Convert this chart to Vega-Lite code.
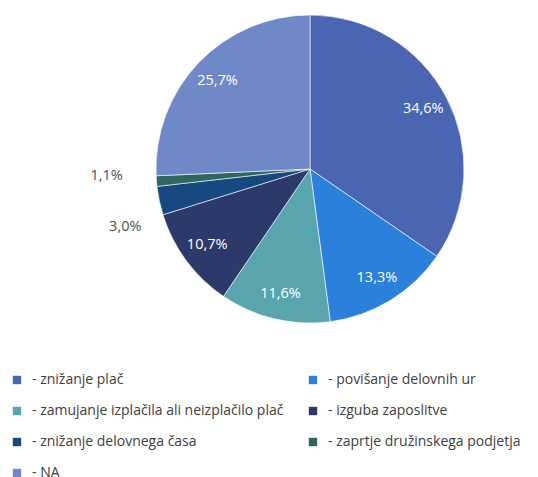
{
  "$schema": "https://vega.github.io/schema/vega-lite/v6.json",
  "width": 456,
  "height": 338,
  "autosize": {"type": "none"},
  "padding": {"left": 82, "top": 0, "right": 0, "bottom": 139},
  "background": "white",
  "config": {"view": {"stroke": null}, "font": "Open Sans"},
  "data": {"values": [
    {"o": 1, "cat": "znižanje plač", "v": 34.6, "lab": "34,6%"},
    {"o": 2, "cat": "povišanje delovnih ur", "v": 13.3, "lab": "13,3%"},
    {"o": 3, "cat": "zamujanje izplačila ali neizplačilo plač", "v": 11.6, "lab": "11,6%"},
    {"o": 4, "cat": "izguba zaposlitve", "v": 10.7, "lab": "10,7%"},
    {"o": 5, "cat": "znižanje delovnega časa", "v": 3.0, "lab": "3,0%"},
    {"o": 6, "cat": "zaprtje družinskega podjetja", "v": 1.1, "lab": "1,1%"},
    {"o": 7, "cat": "NA", "v": 25.7, "lab": "25,7%"}
  ]},
  "encoding": {
    "theta": {"field": "v", "type": "quantitative", "stack": true},
    "order": {"field": "o", "type": "quantitative"}
  },
  "layer": [
    {
      "mark": {"type": "arc", "outerRadius": 154, "stroke": "white", "strokeWidth": 0.6},
      "encoding": {
        "color": {
          "field": "cat", "type": "nominal",
          "scale": {
            "domain": ["znižanje plač", "povišanje delovnih ur", "zamujanje izplačila ali neizplačilo plač", "izguba zaposlitve", "znižanje delovnega časa", "zaprtje družinskega podjetja", "NA"],
            "range": ["#4a66b2", "#2a80da", "#58a5ae", "#2c3a6b", "#17487f", "#2f6660", "#6f88c8"]
          },
          "legend": {
            "orient": "none", "legendX": -72, "legendY": 373,
            "direction": "horizontal",
            "columns": 2, "title": null,
            "symbolType": "square", "symbolSize": 70, "symbolStrokeWidth": 0,
            "labelExpr": "'- ' + datum.label",
            "labelFont": "Open Sans", "labelFontSize": 14, "labelColor": "#404040",
            "labelLimit": 400, "labelOffset": 8,
            "rowPadding": 17, "columnPadding": 22
          }
        }
      }
    },
    {
      "mark": {"type": "text", "radius": 128, "color": "white", "fontSize": 14.5, "font": "Open Sans"},
      "encoding": {
        "text": {"field": "lab"},
        "opacity": {"condition": {"test": "datum.v >= 5", "value": 1}, "value": 0}
      }
    },
    {
      "mark": {"type": "text", "radius": 198, "dx": 9, "dy": 17, "color": "#505050", "fontSize": 14.5, "font": "Open Sans"},
      "encoding": {
        "text": {"field": "lab"},
        "opacity": {"condition": {"test": "datum.o == 5", "value": 1}, "value": 0}
      }
    },
    {
      "mark": {"type": "text", "radius": 198, "dx": -6, "dy": -9, "color": "#505050", "fontSize": 14.5, "font": "Open Sans"},
      "encoding": {
        "text": {"field": "lab"},
        "opacity": {"condition": {"test": "datum.o == 6", "value": 1}, "value": 0}
      }
    }
  ]
}
